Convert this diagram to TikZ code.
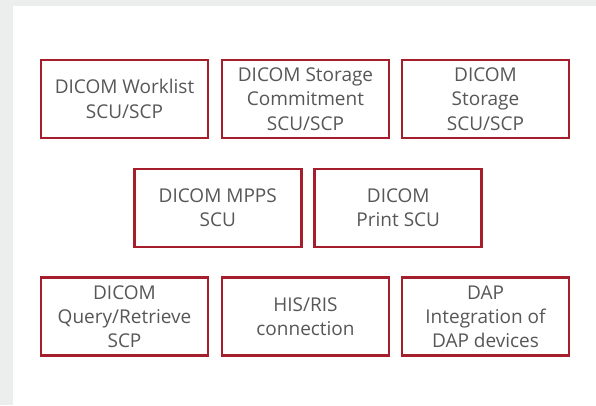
\documentclass[tikz,border=0pt]{standalone}
\usepackage{fontspec}
\setmainfont{Open Sans}
\definecolor{bggray}{HTML}{ECEDED}
\definecolor{boxred}{HTML}{A51E2C}
\definecolor{txtgray}{HTML}{575757}
\begin{document}
\begin{tikzpicture}[x=1pt,y=-1pt,
  modbox/.style={draw=boxred, line width=2.6pt, fill=white, minimum width=167pt, minimum height=78pt,
    inner sep=0pt, align=center, text=txtgray, font=\fontsize{19}{24.3}\selectfont}]
\useasboundingbox (0,0) rectangle (596,405);
\fill[bggray] (0,0) rectangle (596,405);
\fill[white] (13,6) rectangle (596,405);
\node[modbox] (wl) at (124.5,99) {DICOM Worklist\\SCU/SCP};
\node[modbox] (sc) at (305.5,99) {DICOM Storage\\Commitment\\SCU/SCP};
\node[modbox] (st) at (485.5,99) {DICOM\\Storage\\SCU/SCP};
\node[modbox] (mpps) at (217.75,208) {DICOM MPPS\\SCU};
\node[modbox] (pr) at (398.25,208) {DICOM\\Print SCU};
\node[modbox] (qr) at (124.5,316.75) {DICOM\\Query/Retrieve\\SCP};
\node[modbox] (his) at (305.5,316.75) {HIS/RIS\\connection};
\node[modbox] (dap) at (485.5,316.75) {DAP\\Integration of\\DAP devices};
\end{tikzpicture}
\end{document}
